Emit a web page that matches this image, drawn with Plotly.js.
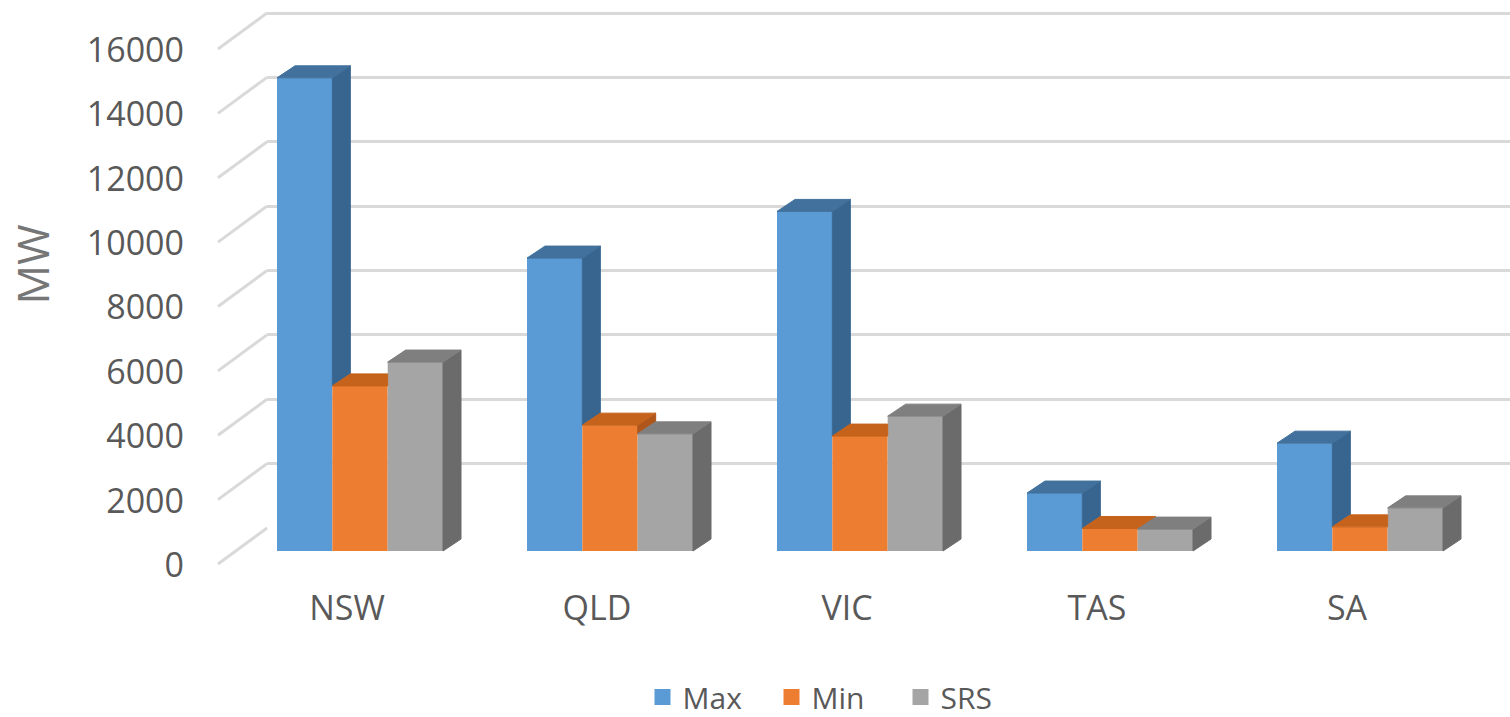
<!DOCTYPE html>
<html><head><meta charset="utf-8">
<script src="https://cdn.plot.ly/plotly-3.0.1.min.js"></script>
<style>html,body{margin:0;padding:0;background:#fff;} #chart{width:1510px;height:717px;}</style>
</head><body><div id="chart"></div>
<script>
// ---- data ----
const categories = ['NSW', 'QLD', 'VIC', 'TAS', 'SA'];
const seriesNames = ['Max', 'Min', 'SRS'];
const maxValues = [14700, 9100, 10550, 1800, 3350];
const minValues = [5130, 3910, 3570, 700, 750];
const srsValues = [5870, 3640, 4190, 680, 1340];
const yTickValues = [0, 2000, 4000, 6000, 8000, 10000, 12000, 14000, 16000];
const yTickLabels = yTickValues.map(String);
const yTitle = 'MW';

// ---- styles / geometry (page pixels) ----
const frontColors = ['#5B9BD5', '#ED7D31', '#A5A5A5'];
const topColors = ['#41719C', '#C5621B', '#7F7F7F'];
const sideColors = ['#386590', '#B0561A', '#6B6B6B'];
const W = 1510, H = 717;
const UNIT = 16000 / 515;          // value units per pixel
const BACK0 = 528, BAR0 = 551, LAB0 = 565, GRID_BOTTOM = 529;
const WALL_X = 267, FLOOR_X = 218, FLOOR_DY = 36;
const DEPTH_X = 18, DEPTH_Y = 12;
const CAT0 = 360, CAT_STEP = 250, GROUP_W = 166, LAB_SHIFT = -13;
const LABEL_X = 184, CAT_AXIS_Y = 585;
const LEGEND_X = 836, LEGEND_Y = 697, LEGEND_FONT = 30;

const series = [maxValues, minValues, srsValues];
const nS = series.length;
const bargap = 1 - GROUP_W / CAT_STEP;
const bw = (1 - bargap) / nS;
const dxU = DEPTH_X / CAT_STEP, dvU = DEPTH_Y * UNIT;
const xIdx = categories.map((c, i) => i);

const traces = [];
// carrier for the back-wall grid subplot
traces.push({type: 'scatter', mode: 'markers', x: [null], y: [null], xaxis: 'x', yaxis: 'y', showlegend: false, hoverinfo: 'skip'});
// front faces: real bars
series.forEach((vals, j) => {
  traces.push({
    type: 'bar', x: xIdx, y: vals, name: seriesNames[j], xaxis: 'x2', yaxis: 'y2',
    marker: {color: frontColors[j], line: {width: 0}}, showlegend: false,
    customdata: categories,
    hovertemplate: '%{customdata} ' + seriesNames[j] + ': %{y}<extra></extra>'
  });
});
// top and side faces (3D look), derived from the same values
series.forEach((vals, j) => {
  const tx = [], ty = [], sx = [], sy = [];
  vals.forEach((v, i) => {
    const vn = j < nS - 1 ? series[j + 1][i] : 0;
    const x0 = i - (nS * bw) / 2 + j * bw, x1 = x0 + bw;
    const c = Math.min(Math.max(vn, v), v + dvU);
    const xk = x1 + dxU * (v + dvU - c) / dvU;
    tx.push(x0, x1, x1, xk, x0 + dxU, x0, null);
    ty.push(v, v, c, v + dvU, v + dvU, v, null);
    const b = j < nS - 1 ? vn : 0;
    if (v > b) {
      sx.push(x1, x1 + dxU, x1 + dxU, x1, x1, null);
      sy.push(b, b + dvU, v + dvU, v, b, null);
    }
  });
  traces.push({type: 'scatter', mode: 'lines', x: sx, y: sy, xaxis: 'x2', yaxis: 'y2', fill: 'toself',
    fillcolor: sideColors[j], line: {color: sideColors[j], width: 1}, hoverinfo: 'skip', showlegend: false});
  traces.push({type: 'scatter', mode: 'lines', x: tx, y: ty, xaxis: 'x2', yaxis: 'y2', fill: 'toself',
    fillcolor: topColors[j], line: {color: topColors[j], width: 1}, hoverinfo: 'skip', showlegend: false});
});
// legend entries
seriesNames.forEach((n, j) => {
  traces.push({type: 'scatter', mode: 'markers', x: [null], y: [null], xaxis: 'x3', yaxis: 'y3', name: n,
    marker: {symbol: 'square', size: 16, color: frontColors[j]}, hoverinfo: 'skip'});
});

function buildLayout(t, h) {
  // value v = 0 sits at page pixel p0; plot area spans page pixels t .. t+h
  const rangeFor = (p0, pTop, pBot) => [-(pBot - p0) * UNIT, (p0 - pTop) * UNIT];
  const frac = p => (t + h - p) / h;
  const shapes = yTickValues.map(v => {
    const yb = v + (BAR0 - BACK0) * UNIT;
    return {type: 'line', xref: 'paper', yref: 'y2', layer: 'below',
      x0: WALL_X / W, x1: FLOOR_X / W, y0: yb, y1: yb - FLOOR_DY * UNIT,
      line: {color: '#D9D9D9', width: 3}};
  });
  const off = {showgrid: false, zeroline: false, showticklabels: false, ticks: '', showline: false, fixedrange: true};
  return {
    width: W, height: H,
    margin: {l: 0, r: 0, t: 0, b: 0, pad: 0},
    paper_bgcolor: '#ffffff', plot_bgcolor: 'rgba(0,0,0,0)',
    barmode: 'group', bargap: bargap, bargroupgap: 0,
    font: {family: '"Open Sans", sans-serif', color: '#595959', size: 34},
    showlegend: true,
    legend: {orientation: 'h', xref: 'container', yref: 'container', x: LEGEND_X / W, xanchor: 'center',
      y: (H - LEGEND_Y) / H, yanchor: 'middle',
      font: {size: LEGEND_FONT, color: '#595959'}, bgcolor: 'rgba(0,0,0,0)', entrywidth: 84, entrywidthmode: 'pixels'},
    shapes: shapes,
    xaxis: Object.assign({}, off, {domain: [WALL_X / W, 1], anchor: 'y', range: [0, 1]}),
    yaxis: Object.assign({}, off, {domain: [Math.max(0, frac(GRID_BOTTOM)), Math.min(1, frac(0))], anchor: 'x',
      range: rangeFor(BACK0, Math.max(t, 0), GRID_BOTTOM), tickvals: yTickValues, showgrid: true, gridcolor: '#D9D9D9', gridwidth: 3,
      title: {text: yTitle, font: {size: 44, color: '#767676'}, standoff: 202}}),
    xaxis2: Object.assign({}, off, {domain: [0, 1], anchor: 'y2', range: [-CAT0 / CAT_STEP, (W - CAT0) / CAT_STEP]}),
    yaxis2: Object.assign({}, off, {domain: [0, 1], anchor: 'x2', range: rangeFor(BAR0, t, t + h)}),
    xaxis3: Object.assign({}, off, {overlaying: 'x2', anchor: 'free', position: frac(CAT_AXIS_Y), showticklabels: true,
      range: [-(CAT0 + LAB_SHIFT) / CAT_STEP, (W - CAT0 - LAB_SHIFT) / CAT_STEP],
      tickvals: xIdx, ticktext: categories, tickfont: {size: 34, color: '#595959'}}),
    yaxis3: Object.assign({}, off, {overlaying: 'y2', anchor: 'free', position: LABEL_X / W, side: 'left', showticklabels: true,
      range: rangeFor(LAB0, t, t + h), tickvals: yTickValues, ticktext: yTickLabels, tickfont: {size: 34, color: '#595959'}})
  };
}
const gd = document.getElementById('chart');
const config = {displayModeBar: false};
Plotly.newPlot(gd, traces, buildLayout(0, H), config).then(() => {
  const s = gd._fullLayout._size;
  if (Math.abs(s.h - H) > 0.5 || Math.abs(s.t) > 0.5) {
    return Plotly.react(gd, traces, buildLayout(s.t, s.h), config);
  }
});
</script>
</body></html>
